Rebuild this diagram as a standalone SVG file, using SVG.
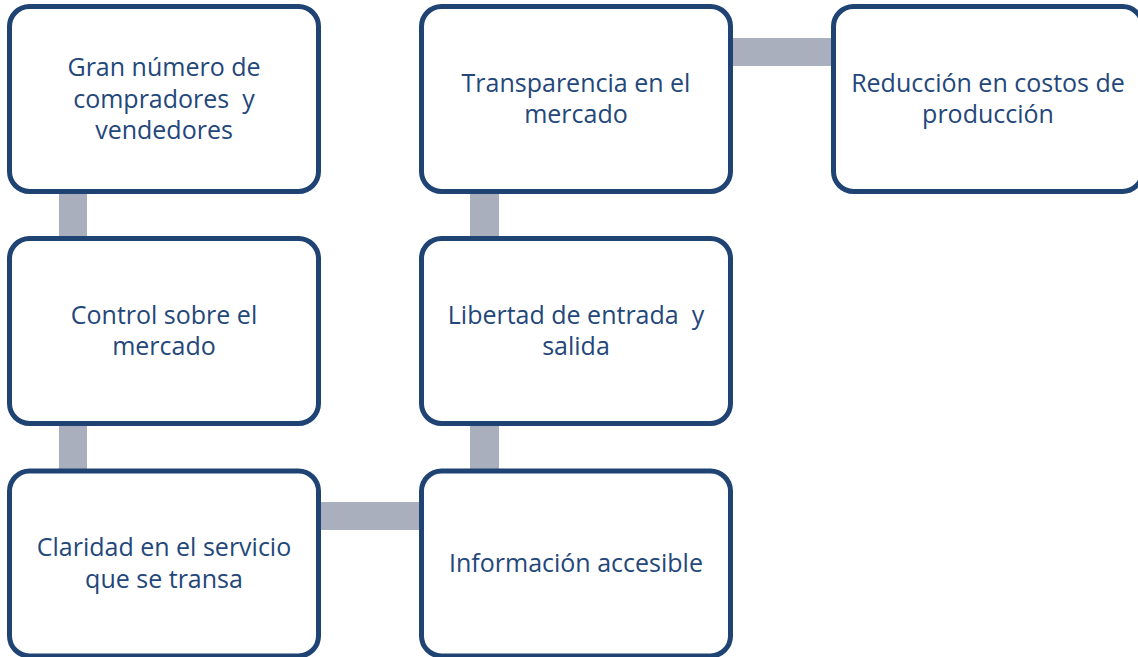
<svg xmlns="http://www.w3.org/2000/svg" width="1138" height="657" viewBox="0 0 1138 657">
<style>
.box{fill:#fff;stroke:#1F4373;stroke-width:5}
.bar{fill:#A9AFBC}
.t{font-family:"Open Sans","Noto Sans",sans-serif;font-size:25px;fill:#24477A;text-anchor:middle}
</style>
<rect width="1138" height="657" fill="#fff"/>
<g id="connectors">
<rect class="bar" x="59" y="190" width="28" height="50"/>
<rect class="bar" x="59" y="422" width="28" height="50"/>
<rect class="bar" x="318" y="502" width="105" height="28"/>
<rect class="bar" x="470" y="422" width="29" height="50"/>
<rect class="bar" x="470" y="190" width="29" height="50"/>
<rect class="bar" x="730" y="38" width="105" height="28"/>
</g>
<g id="n1"><rect class="box" x="9.5" y="6.5" width="309" height="185" rx="20"/>
<text class="t" x="164" y="76">Gran número de</text><text class="t" x="164" y="107.5">compradores&#160; y</text><text class="t" x="164" y="139">vendedores</text></g>
<g id="n2"><rect class="box" x="9.5" y="238.5" width="309" height="185" rx="20"/>
<text class="t" x="164" y="323.75">Control sobre el</text><text class="t" x="164" y="355.25">mercado</text></g>
<g id="n3"><rect class="box" x="9.5" y="471" width="309" height="185" rx="20"/>
<text class="t" x="164" y="556.25">Claridad en el servicio</text><text class="t" x="164" y="587.75">que se transa</text></g>
<g id="n4"><rect class="box" x="421.5" y="471" width="309" height="185" rx="20"/>
<text class="t" x="576" y="572">Información accesible</text></g>
<g id="n5"><rect class="box" x="421.5" y="238.5" width="309" height="185" rx="20"/>
<text class="t" x="576" y="323.75">Libertad de entrada&#160; y</text><text class="t" x="576" y="355.25">salida</text></g>
<g id="n6"><rect class="box" x="421.5" y="6.5" width="309" height="185" rx="20"/>
<text class="t" x="576" y="91.75">Transparencia en el</text><text class="t" x="576" y="123.25">mercado</text></g>
<g id="n7"><rect class="box" x="833.5" y="6.5" width="309" height="185" rx="20"/>
<text class="t" x="988" y="91.75">Reducción en costos de</text><text class="t" x="988" y="123.25">producción</text></g>
</svg>
